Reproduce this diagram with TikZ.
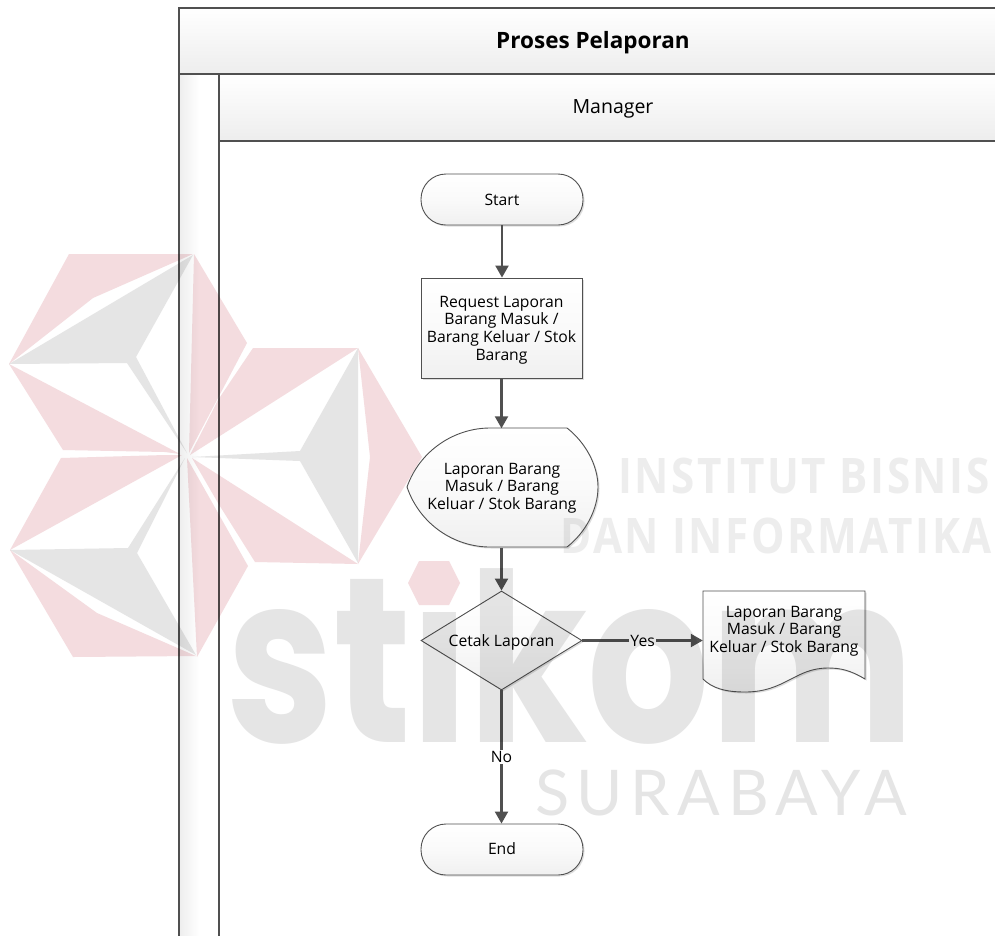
\documentclass[tikz,border=0pt]{standalone}
\usepackage{fontspec}
\usetikzlibrary{arrows.meta,shapes.geometric,shadows}
\setmainfont{Open Sans}
\newfontfamily\wmbold[LetterSpace=6]{Open Sans}
\newfontfamily\wmlight[LetterSpace=12]{Lato}
\newfontfamily\wmbig{Poppins}
\definecolor{wpink}{HTML}{F4DCDF}
\definecolor{wgray}{HTML}{E5E5E5}
\definecolor{wtext}{HTML}{EDEDED}
\definecolor{ink}{HTML}{505050}
\tikzset{
  x=1pt,y=-1pt,
  lane/.style={draw=ink,line width=1.8pt},
  shape fill/.style={top color=white,bottom color=black!6,middle color=black!2},
  shade/.style={drop shadow={shadow xshift=1.5pt,shadow yshift=-1.5pt,fill=black!22,opacity=.6}},
  flow/.style={draw=ink,line width=.9pt,shape fill,shade},
  txt/.style={font=\fontsize{15.7}{17.7}\selectfont,align=center,text=black,inner sep=0pt},
  conn/.style={draw=ink,line width=2.2pt,-{Triangle[length=12pt,width=13pt]}},
  lbl/.style={txt,fill=white,inner xsep=1pt,inner ysep=1pt},
}
\begin{document}
\begin{tikzpicture}
\useasboundingbox (0,0) rectangle (995,935);
\clip (0,0) rectangle (995,935);
\fill[white] (0,0) rectangle (995,935);
% swimlane
\path[lane,top color=white,bottom color=black!7] (179,8) rectangle (1010,74);
\path[lane,left color=black!7,right color=white,middle color=white] (179,74) rectangle (219,960);
\path[lane,top color=white,bottom color=black!7] (219,74) rectangle (1010,141);
\draw[lane] (219,141) -- (219,960);
\node[txt,font=\fontsize{22.5}{24}\selectfont\bfseries] (title) at (593,43) {Proses Pelaporan};
\node[txt,font=\fontsize{19.5}{22}\selectfont] (mgr) at (613,109) {Manager};
% shapes
\node[flow,rounded corners=25pt,minimum width=162pt,minimum height=51pt,inner sep=0pt] (start) at (502,199.5) {};
\node[txt] at (start.center) {Start};
\node[flow,minimum width=161pt,minimum height=100pt,inner sep=0pt] (req) at (501.5,328) {};
\node[txt] at (501.5,330) {Request Laporan\\Barang Masuk /\\Barang Keluar / Stok\\Barang};
\path[flow] (407,487) .. controls (420,450) and (455,428) .. (490,428) -- (567,428)
  .. controls (585,442) and (598,465) .. (598,487) .. controls (598,510) and (585,533) .. (567,547)
  -- (490,547) .. controls (455,547) and (420,525) .. (407,487) -- cycle;
\node[txt,minimum width=191pt,minimum height=119pt] (disp) at (502,488) {Laporan Barang\\Masuk / Barang\\Keluar / Stok Barang};
\node[flow,diamond,aspect=1.62,minimum width=161pt,minimum height=99pt,inner sep=0pt] (dec) at (501.5,640.5) {};
\node[txt] at (501.5,642) {Cetak Laporan};
\path[flow] (703,591) -- (865,591) -- (865,679) .. controls (850,670) and (840,668) .. (828,668)
  .. controls (795,668) and (785,692) .. (745,692) .. controls (725,692) and (712,688) .. (703,679) -- cycle;
\node[txt,minimum width=162pt,minimum height=101pt,anchor=north] (doc) at (784,591) {};
\node[txt] at (784,631) {Laporan Barang\\Masuk / Barang\\Keluar / Stok Barang};
\node[flow,rounded corners=25pt,minimum width=162pt,minimum height=51pt,inner sep=0pt] (end) at (502,849.5) {};
\node[txt] at (502,849) {End};
% connectors
\draw[conn] (start) -- (start|-req.north);
\draw[conn] (req) -- (req|-disp.north);
\draw[conn] (disp.south-|dec) -- (dec.north);
\draw[conn] (dec.east) -- node[lbl,pos=.5] (yes) {Yes} (doc.west|-dec.east);
\draw[conn] (dec.south) -- node[lbl,pos=.5] (no) {No} (dec|-end.north);
% watermark
\begin{scope}[blend mode=multiply]
\fill[wpink] (9,364) -- (69,254) -- (193,254) -- (93,298) -- cycle;
\fill[wpink] (194,254) -- (247,343) -- (189,453) -- cycle;
\fill[wpink] (9,364) -- (63,450) -- (165,452) -- (180,454) -- cycle;
\fill[wpink] (10,550) -- (61,458) -- (165,455) -- (182,455) -- cycle;
\fill[wpink] (187,458) -- (248,566) -- (197,657) -- cycle;
\fill[wpink] (10,550) -- (97,613) -- (196,656) -- (73,657) -- cycle;
\fill[wpink] (190,455) -- (218,400) -- (253,348) -- (358,348) -- cycle;
\fill[wpink] (358,348) -- (422,457) -- (358,564) -- (370,457) -- cycle;
\fill[wpink] (192,458) -- (358,564) -- (255,562) -- (218,503) -- cycle;
\fill[wpink] (419,561) -- (449,561) -- (460,583) -- (449,605) -- (419,605) -- (408,583) -- cycle;
\fill[wgray] (9,364) -- (193,255) -- (136,357) -- (187,453) -- (127,363) -- cycle;
\fill[wgray] (10,550) -- (128,548) -- (185,458) -- (137,553) -- (196,655) -- cycle;
\fill[wgray] (358,348) -- (300,451) -- (192,457) -- (300,461) -- (358,563) -- cycle;
\node[font=\fontsize{49}{49}\wmbold\bfseries,text=wtext,anchor=base west,inner sep=0pt,xscale=.86] (w1) at (618,493) {INSTITUT BISNIS};
\node[font=\fontsize{49}{49}\wmbold\bfseries,text=wtext,anchor=base west,inner sep=0pt,xscale=.86] (w2) at (560,553) {DAN INFORMATIKA};
\node[font=\fontsize{63}{63}\wmlight,text=wgray,anchor=base west,inner sep=0pt] (w3) at (535,815) {SURABAYA};
\begin{scope}[even odd rule]
\clip (0,0) rectangle (995,935) (405,540) rectangle (470,612);
\node[font=\fontsize{235}{235}\wmbig\bfseries,text=wgray,anchor=base west,inner sep=0pt,xscale=.82] (w4) at (226,742) {stikom};
\end{scope}
\end{scope}
\end{tikzpicture}
\end{document}
